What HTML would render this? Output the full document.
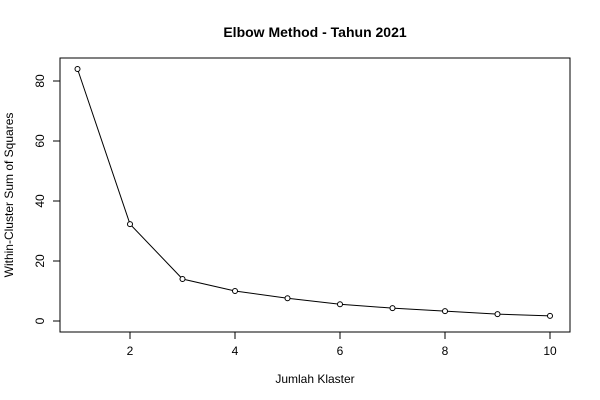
<!DOCTYPE html>
<html><head><meta charset="utf-8"><style>
body{margin:0;background:#fff;}
svg{display:block;font-family:"Liberation Sans",Arial,sans-serif;}
</style></head><body>
<svg id="chart" width="600" height="400">
<rect x="0" y="0" width="600" height="400" fill="#fff"/>
<text x="315" y="37" text-anchor="middle" font-size="14" font-weight="bold">Elbow Method - Tahun 2021</text>
<rect x="60" y="58" width="510" height="274" fill="none" stroke="#000" stroke-width="1"/>
<text x="315" y="383" text-anchor="middle" font-size="12">Jumlah Klaster</text>
<text transform="translate(13,195) rotate(-90)" text-anchor="middle" font-size="12">Within-Cluster Sum of Squares</text>
<g id="axes"></g>
<g id="marks"></g>
</svg>
<script>
const clusters=[1,2,3,4,5,6,7,8,9,10];
const wcss=[84,32.3,14,10,7.6,5.6,4.3,3.3,2.3,1.7];
const xTicks=[2,4,6,8,10];
const yTicks=[0,20,40,60,80];
const NS="http://www.w3.org/2000/svg";
function sx(v){return 77.5+(v-1)*52.5;}
function sy(v){return 321-v*3;}
function mk(tag,attrs,parent){const e=document.createElementNS(NS,tag);for(const k in attrs)e.setAttribute(k,attrs[k]);parent.appendChild(e);return e;}
const axes=document.getElementById('axes'),marks=document.getElementById('marks');
let xa=mk('line',{x1:sx(2),x2:sx(10),y1:332,y2:332,stroke:'#000'},axes);


xTicks.forEach(t=>{
 let l=mk('line',{x1:sx(t),x2:sx(t),y1:332,y2:339,stroke:'#000'},axes);
 
 
 let tx=mk('text',{x:sx(t),y:355,'text-anchor':'middle','font-size':12},axes);tx.textContent=t;
 
 
});
let ya=mk('line',{x1:60,x2:60,y1:sy(0),y2:sy(80),stroke:'#000'},axes);


yTicks.forEach(t=>{
 let l=mk('line',{x1:53,x2:60,y1:sy(t),y2:sy(t),stroke:'#000'},axes);
 
 
 let tx=mk('text',{transform:`translate(44,${sy(t)}) rotate(-90)`,'text-anchor':'middle','font-size':12},axes);tx.textContent=t;
 
 
});
let d=clusters.map((c,i)=>(i?'L':'M')+sx(c)+','+sy(wcss[i])).join(' ');
let p=mk('path',{d:d,fill:'none',stroke:'#000','stroke-width':1},marks);


clusters.forEach((c,i)=>{
 let pt=mk('circle',{cx:sx(c),cy:sy(wcss[i]),r:2.5,fill:'#fff',stroke:'#000'},marks);
 
 
});
</script>
</body></html>
